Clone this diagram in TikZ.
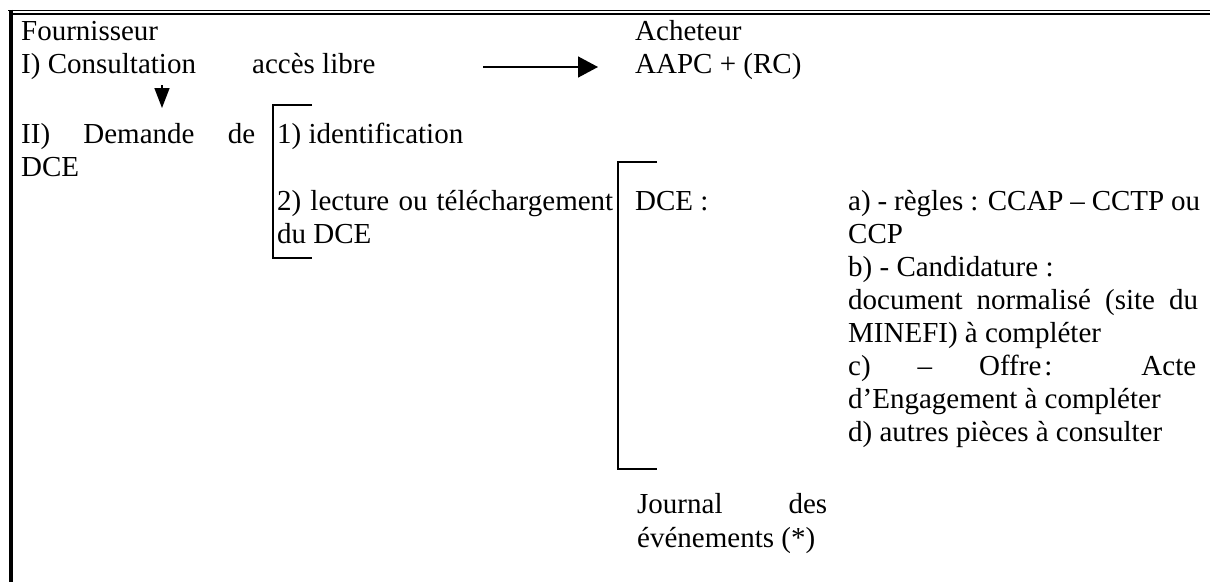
\documentclass[tikz,border=0pt]{standalone}
\usepackage{fontspec}
\setmainfont{Liberation Serif}
\usetikzlibrary{arrows.meta}
\begin{document}
\begin{tikzpicture}[x=1pt,y=-1pt,
  txt/.style={anchor=base west, inner sep=0pt, font=\fontsize{29}{33}\selectfont},
  brk/.style={line width=1.5pt},
  arr/.style={line width=1.5pt, -{Triangle[length=20pt,width=21pt]}},
  darr/.style={line width=1.5pt, -{Triangle[length=20pt,width=15pt]}}]
\useasboundingbox (0,0) rectangle (1210,582);
% frame
\draw[line width=1.5pt] (8,10.5) -- (1210,10.5);
\draw[line width=2.5pt] (11,14) -- (1210,14);
\draw[line width=4pt] (11,9.75) -- (11,582);
% top rows
\node[txt] (four) at (21,40) {Fournisseur};
\node[txt] (ach) at (635,40) {Acheteur};
\node[txt] (cons) at (21,73) {I) Consultation};
\node[txt] (acces) at (252,73) {accès libre};
\node[txt] (aapc) at (635,73) {AAPC + (RC)};
\coordinate (r1) at (483,67);
\coordinate (r2) at (598,67);
\draw[arr] (r1) -- (r2);
\coordinate (d1) at (162,85);
\coordinate (d2) at (162,108);
\draw[darr] (d1) -- (d2);
% demande
\node[txt] (dem) at (21,143) {\makebox[234pt][s]{II) Demande de}};
\node[txt] (dce1) at (21,176) {DCE};
\node[txt] (ident) at (277,143) {1) identification};
\node[txt] (lect) at (277,210) {\makebox[336pt][s]{2) lecture ou téléchargement}};
\node[txt] (dudce) at (277,243) {du DCE};
\draw[brk] (312,105) -- (273,105) -- (273,258) -- (312,258);
% DCE bracket
\draw[brk] (657,162) -- (618,162) -- (618,469) -- (657,469);
\node[txt] (dce2) at (635,210) {DCE :};
\node[txt] (la) at (848,210) {\makebox[352pt][s]{a) - règles : CCAP – CCTP ou}};
\node[txt] (lccp) at (848,243) {CCP};
\node[txt] (lb) at (848,276) {b) - Candidature :};
\node[txt] (ldoc) at (848,309) {\makebox[350pt][s]{document normalisé (site du}};
\node[txt] (lmin) at (848,342) {MINEFI) à compléter};
\node[txt] (lc) at (848,375) {\makebox[348pt][s]{c) – Offre\kern3pt: Acte}};
\node[txt] (leng) at (848,408) {d’Engagement à compléter};
\node[txt] (ld) at (848,441) {d) autres pièces à consulter};
\node[txt] (jour) at (637,513) {\makebox[190pt][s]{Journal des}};
\node[txt] (even) at (637,547) {événements (*)};
\end{tikzpicture}
\end{document}
